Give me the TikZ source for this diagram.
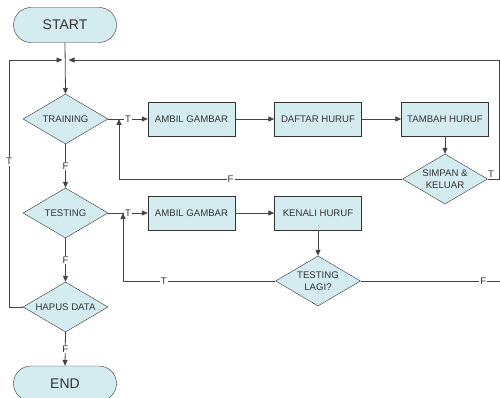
\documentclass[tikz,border=0pt]{standalone}
\usepackage{fontspec}
\setmainfont{Liberation Sans}
\usetikzlibrary{shapes.geometric,arrows.meta}
\definecolor{boxfill}{HTML}{D4EBF0}
\definecolor{ink}{HTML}{333333}
\definecolor{wire}{HTML}{444444}
\begin{document}
\begin{tikzpicture}[x=1pt,y=-1pt,
  every node/.style={text=ink},
  term/.style={draw=ink,fill=boxfill,rounded corners=17.5pt,minimum width=103pt,minimum height=35pt,inner sep=0pt,font=\fontsize{14}{16}\selectfont},
  proc/.style={draw=ink,fill=boxfill,minimum width=87pt,minimum height=34pt,inner sep=0pt,font=\fontsize{9.6}{11.5}\selectfont},
  dec/.style={draw=ink,fill=boxfill,diamond,aspect=1.7,minimum width=85pt,minimum height=50pt,inner sep=0pt,align=center,font=\fontsize{9.6}{11.5}\selectfont},
  arr/.style={draw=wire,line width=0.8pt,-{Triangle[length=6pt,width=5pt]}},
  ln/.style={draw=wire,line width=0.8pt},
  lbl/.style={fill=white,inner sep=1pt,font=\fontsize{9.6}{11}\selectfont}]
\useasboundingbox (0,0) rectangle (500,398);
% nodes
\node[term] (start) at (65,25) {START};
\node[dec] (training) at (65.5,119) {TRAINING};
\node[proc] (ambil1) at (191.5,119) {AMBIL GAMBAR};
\node[proc] (daftar) at (318,119) {DAFTAR HURUF};
\node[proc] (tambah) at (445,119) {TAMBAH HURUF};
\node[dec] (simpan) at (445,179) {SIMPAN \&\\KELUAR};
\node[dec] (testing) at (65.5,213) {TESTING};
\node[proc] (ambil2) at (191.5,213) {AMBIL GAMBAR};
\node[proc] (kenali) at (318,213) {KENALI HURUF};
\node[dec] (lagi) at (318,281) {TESTING\\LAGI?};
\node[dec] (hapus) at (65.5,307) {HAPUS DATA};
\node[term] (end) at (65,383.5) {END};
% coordinates
\coordinate (jL) at (62.5,60);
\coordinate (jR) at (68.5,60);
\coordinate (lc) at (9,60);
\coordinate (rc) at (499,60);
\coordinate (m1) at (119,119);
\coordinate (m2) at (123,213);
\coordinate (fe) at (500,281);
% connectors
\draw[arr] (start.south) -- (training.north);
\draw[arr] (training.east) -- node[lbl]{T} (ambil1.west);
\draw[arr] (ambil1.east) -- (daftar.west);
\draw[arr] (daftar.east) -- (tambah.west);
\draw[arr] (tambah.south) -- (simpan.north);
\draw[arr] (simpan.west) -| node[lbl,pos=0.303]{F} (m1);
\draw[arr] (simpan.east) -- node[above,pos=0.3,inner sep=1pt,font=\fontsize{9.6}{11}\selectfont]{T} (simpan.east -| rc) -- (rc) -- (jR);
\draw[arr] (training.south) -- node[lbl]{F} (testing.north);
\draw[arr] (testing.east) -- node[lbl]{T} (ambil2.west);
\draw[arr] (ambil2.east) -- (kenali.west);
\draw[arr] (kenali.south) -- (lagi.north);
\draw[arr] (lagi.west) -| node[lbl,pos=0.366]{T} (m2);
\draw[ln] (lagi.east) -- node[lbl,pos=0.88]{F} (fe);
\draw[arr] (testing.south) -- node[lbl]{F} (hapus.north);
\draw[arr] (hapus.west) -- (hapus.west -| lc) -- node[lbl,pos=0.59]{T} (lc) -- (jL);
\draw[arr] (hapus.south) -- node[lbl]{F} (end.north);
\end{tikzpicture}
\end{document}
